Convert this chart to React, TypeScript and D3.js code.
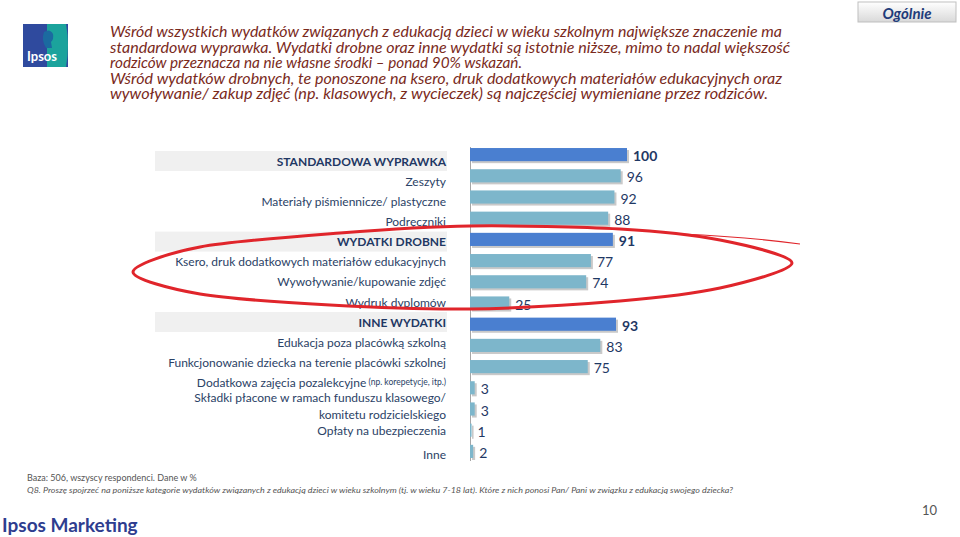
import React from 'react';
import * as d3 from 'd3';

const categories = [
  'STANDARDOWA WYPRAWKA',
  'Zeszyty',
  'Materiały piśmiennicze/ plastyczne',
  'Podręczniki',
  'WYDATKI DROBNE',
  'Ksero, druk dodatkowych materiałów edukacyjnych',
  'Wywoływanie/kupowanie zdjęć',
  'Wydruk dyplomów',
  'INNE WYDATKI',
  'Edukacja poza placówką szkolną',
  'Funkcjonowanie dziecka na terenie placówki szkolnej',
  'Dodatkowa zajęcia pozalekcyjne',
  'Składki płacone w ramach funduszu klasowego/|komitetu rodzicielskiego',
  'Opłaty na ubezpieczenia',
  'Inne',
];
const values = [100, 96, 92, 88, 91, 77, 74, 25, 93, 83, 75, 3, 3, 1, 2];
const isHeader = [true, false, false, false, true, false, false, false, true, false, false, false, false, false, false];

const titleLines = [
  'Wśród wszystkich wydatków związanych z edukacją dzieci w wieku szkolnym największe znaczenie ma',
  'standardowa wyprawka. Wydatki drobne oraz inne wydatki są istotnie niższe, mimo to nadal większość',
  'rodziców przeznacza na nie własne środki – ponad 90% wskazań.',
  'Wśród wydatków drobnych, te ponoszone na ksero, druk dodatkowych materiałów edukacyjnych oraz',
  'wywoływanie/ zakup zdjęć (np. klasowych, z wycieczek) są najczęściej wymieniane przez rodziców.',
];
const titleWidths = [672, 680, 412, 672, 658];

// hand-drawn highlight loop around the "wydatki drobne" rows
const loopPoints: [number, number][] = [
  [133, 272], [200, 247], [340, 233], [470, 226], [620, 229], [720, 240], [792, 263],
  [720, 288], [620, 301], [470, 309], [330, 305], [200, 294],
];

const W = 960;
const H = 537;
const FONT = 'Lato, "Open Sans", sans-serif';

export default function App() {
  const x = d3.scaleLinear().domain([0, 100]).range([470, 627]);
  const y = d3.scaleBand<number>().domain(d3.range(categories.length)).range([144, 462]).paddingInner(0.38).paddingOuter(0.19);
  const labelY = d3.scaleLinear().domain([0, 7, 11, 14]).range([161, 302, 382, 454]);
  const bw = y.bandwidth();
  const loop = d3.line().curve(d3.curveCardinalClosed.tension(0.1))(loopPoints) || '';

  return (
    <svg width={W} height={H} style={{ position: 'absolute', left: 0, top: 0, background: '#fff' }} fontFamily={FONT}>
      <defs>
        <linearGradient id="btn" x1="0" y1="0" x2="0" y2="1">
          <stop offset="0" stopColor="#ffffff" />
          <stop offset="1" stopColor="#d9d9d9" />
        </linearGradient>
      </defs>
      <rect width={W} height={H} fill="#fff" />

      {/* logo */}
      <g>
        <rect x={23} y={24} width={45} height={43} fill="#2f4a9e" />
        <path d="M47,24 L66,24 Q70,45 66,67 L47,67 Z" fill="#1ba39c" />
        <path d="M44,32 q6,-4 9,2 q1,5 -2,8 l1,6 l-6,0 q-5,-8 -2,-16 z" fill="#1b6aa0" />
        <text x={27} y={61} fill="#fff" fontSize={13} fontWeight="bold">Ipsos</text>
      </g>

      {/* title */}
      {titleLines.map((t, i) => (
        <text key={i} x={110} y={37 + i * 15.5} fill="#7a2a1c" fontStyle="italic" fontSize={14.5}
          textLength={titleWidths[i]} lengthAdjust="spacingAndGlyphs">{t}</text>
      ))}

      {/* button */}
      <rect x={858} y={2} width={98} height={20} fill="url(#btn)" stroke="#bfbfbf" />
      <text x={907} y={13} textAnchor="middle" dominantBaseline="central" fill="#1f3c7a" fontSize={15} fontWeight="bold" fontStyle="italic">Ogólnie</text>

      {/* header bands */}
      {categories.map((c, i) => isHeader[i] ? (
        <rect key={'b' + i} x={155} y={labelY(i) - 10} width={292} height={20} fill="#f0f0f0" />
      ) : null)}

      {/* category labels */}
      {categories.map((c, i) => {
        const ly = labelY(i);
        if (c.includes('|')) {
          const [a, b] = c.split('|');
          return (
            <g key={'l' + i} fill="#2b4266" fontSize={12}>
              <text x={446} y={ly - 8.5} textAnchor="end" dominantBaseline="central">{a}</text>
              <text x={446} y={ly + 8.5} textAnchor="end" dominantBaseline="central">{b}</text>
            </g>
          );
        }
        return (
          <text key={'l' + i} x={446} y={ly} textAnchor="end" dominantBaseline="central"
            fill={isHeader[i] ? '#1f3864' : '#2b4266'} fontSize={12} fontWeight={isHeader[i] ? 'bold' : 'normal'}>
            {c}
            {i === 11 ? <tspan fontSize={8.5}> (np. korepetycje, itp.)</tspan> : null}
          </text>
        );
      })}

      {/* axis */}
      <line x1={470.5} x2={470.5} y1={147} y2={461} stroke="#a6a6a6" />

      {/* bars */}
      {values.map((v, i) => {
        const y0 = y(i) as number;
        const w = x(v) - x(0);
        return (
          <g key={'r' + i}>
            <rect x={x(0) + 2} y={y0 + 2} width={w} height={bw} fill="#c9c9c9" />
            <rect x={x(0)} y={y0} width={w} height={bw} fill={isHeader[i] ? '#4a7fd0' : '#7db6cb'} />
            <text x={x(v) + 6} y={y0 + bw / 2 + 1} dominantBaseline="central" fontSize={14}
              fill="#1f3864" fontWeight={isHeader[i] ? 'bold' : 'normal'}>{v}</text>
          </g>
        );
      })}

      {/* red loop */}
      <path d={loop} fill="none" stroke="#e0252b" strokeWidth={3} />
      <path d="M680,234 Q750,237 800,244" fill="none" stroke="#e0252b" strokeWidth={1.2} />

      {/* footer */}
      <text x={27} y={481} fontSize={9} fill="#555">Baza: 506, wszyscy respondenci. Dane w %</text>
      <text x={27} y={493} fontSize={8.5} fill="#555" fontStyle="italic" textLength={706} lengthAdjust="spacingAndGlyphs">
        Q8. Proszę spojrzeć na poniższe kategorie wydatków związanych z edukacją dzieci w wieku szkolnym (tj. w wieku 7-18 lat). Które z nich ponosi Pan/ Pani w związku z edukacją swojego dziecka?
      </text>
      <text x={2} y={532} fontSize={19} fontWeight="bold" fill="#2e3d8f">Ipsos Marketing</text>
      <text x={922} y={515} fontSize={13} fill="#555">10</text>
    </svg>
  );
}
